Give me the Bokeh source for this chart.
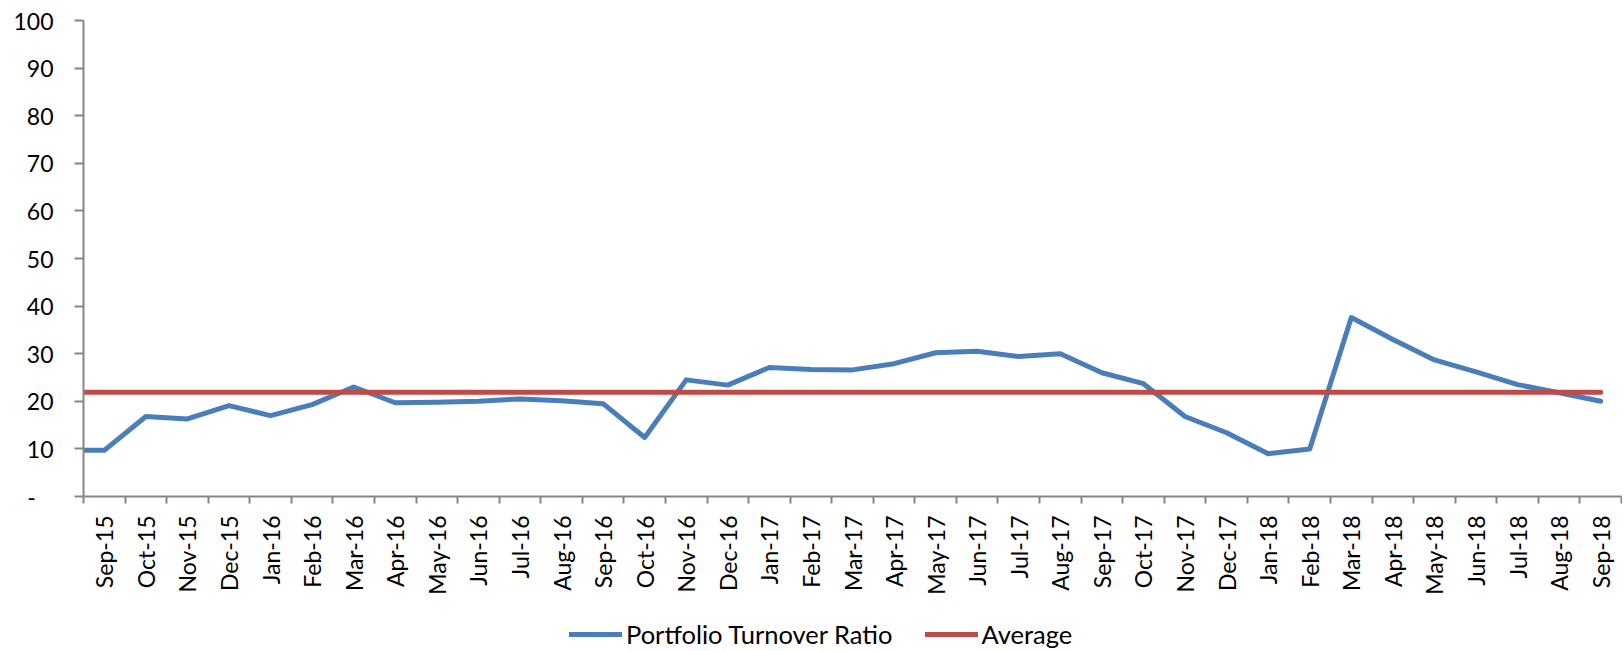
import math
from bokeh.plotting import figure
from bokeh.models import Range1d, FixedTicker, Legend, LegendItem
from bokeh.layouts import column
from bokeh.embed import file_html
from bokeh.resources import INLINE

months = ["Sep-15", "Oct-15", "Nov-15", "Dec-15", "Jan-16", "Feb-16", "Mar-16", "Apr-16",
          "May-16", "Jun-16", "Jul-16", "Aug-16", "Sep-16", "Oct-16", "Nov-16", "Dec-16",
          "Jan-17", "Feb-17", "Mar-17", "Apr-17", "May-17", "Jun-17", "Jul-17", "Aug-17",
          "Sep-17", "Oct-17", "Nov-17", "Dec-17", "Jan-18", "Feb-18", "Mar-18", "Apr-18",
          "May-18", "Jun-18", "Jul-18", "Aug-18", "Sep-18"]
turnover = [9.7, 16.8, 16.3, 19.1, 17.0, 19.3, 23.0, 19.7,
            19.8, 20.0, 20.5, 20.1, 19.5, 12.4, 24.5, 23.4,
            27.1, 26.7, 26.6, 27.9, 30.2, 30.5, 29.4, 30.0,
            26.0, 23.7, 16.8, 13.4, 9.0, 10.0, 37.6, 33.0,
            28.7, 26.2, 23.5, 21.8, 20.0]
average = [21.9]
y_ticks = [0, 10, 20, 30, 40, 50, 60, 70, 80, 90, 100]

FONT = "Lato"
BLUE = "#4A7EBB"
RED = "#BE4B48"
AXIS = "#868686"

n = len(months)
x_start = -0.5
x_end = n - 0.5

p = figure(width=1622, height=606, output_backend="svg", toolbar_location=None,
           x_range=Range1d(x_start, x_end), y_range=Range1d(0, 100),
           min_border_left=83, min_border_right=1, min_border_top=20, min_border_bottom=110)
p.outline_line_color = None
p.xgrid.visible = False
p.ygrid.visible = False
p.background_fill_color = "white"
p.border_fill_color = "white"

# lines (Excel draws the series from the axis edge)
bx = [x_start] + list(range(n))
by = [turnover[0]] + turnover
ax = [x_start, n - 1]
ay = [average[0], average[0]]
p.line(bx, by, line_color=BLUE, line_width=5, line_cap="round", line_join="round")
p.line(ax, ay, line_color=RED, line_width=5, line_cap="round", line_join="round")

# x axis
xa = p.xaxis[0]
xa.ticker = FixedTicker(ticks=list(range(n)), minor_ticks=[i - 0.5 for i in range(n + 1)])
xa.major_label_overrides = {i: m for i, m in enumerate(months)}
xa.major_label_orientation = math.pi / 2
xa.major_tick_line_color = None
xa.major_tick_out = 7
xa.minor_tick_in = 0
xa.minor_tick_out = 7
xa.minor_tick_line_color = AXIS
xa.minor_tick_line_width = 2
xa.axis_line_color = AXIS
xa.axis_line_width = 2
xa.major_label_standoff = 12
xa.major_label_text_font = FONT
xa.major_label_text_font_size = "23px"
xa.major_label_text_color = "#000000"

# y axis
ya = p.yaxis[0]
ya.ticker = FixedTicker(ticks=y_ticks, minor_ticks=[])
ya.major_label_overrides = {0: "-\u00a0\u00a0\u00a0"}
ya.major_tick_in = 0
ya.major_tick_out = 9
ya.major_tick_line_color = AXIS
ya.major_tick_line_width = 2
ya.axis_line_color = AXIS
ya.axis_line_width = 2
ya.major_label_standoff = 21
ya.major_label_text_font = FONT
ya.major_label_text_font_size = "23px"
ya.major_label_text_color = "#000000"

# legend strip: same series drawn out of view, legend inside its frame
pl = figure(width=1622, height=44, output_backend="svg", toolbar_location=None,
            x_range=Range1d(x_start, x_end), y_range=Range1d(-300, -200),
            min_border_left=0, min_border_right=0, min_border_top=0, min_border_bottom=0)
pl.axis.visible = False
pl.grid.visible = False
pl.outline_line_color = None
l1 = pl.line(bx, by, line_color=BLUE, line_width=5, line_cap="round")
l2 = pl.line(ax, ay, line_color=RED, line_width=5, line_cap="round")

legend = Legend(items=[LegendItem(label="Portfolio Turnover Ratio", renderers=[l1]),
                       LegendItem(label="Average", renderers=[l2])],
                orientation="horizontal", location=(486, 1),
                glyph_width=53, glyph_height=20, label_height=20, label_standoff=4,
                spacing=32, padding=0, margin=0,
                border_line_color=None, background_fill_alpha=0,
                label_text_font=FONT, label_text_font_size="25.5px",
                label_text_color="#000000")
pl.add_layout(legend, "center")

layout = column(p, pl, spacing=0)
open("out.html", "w").write(file_html(layout, INLINE))
